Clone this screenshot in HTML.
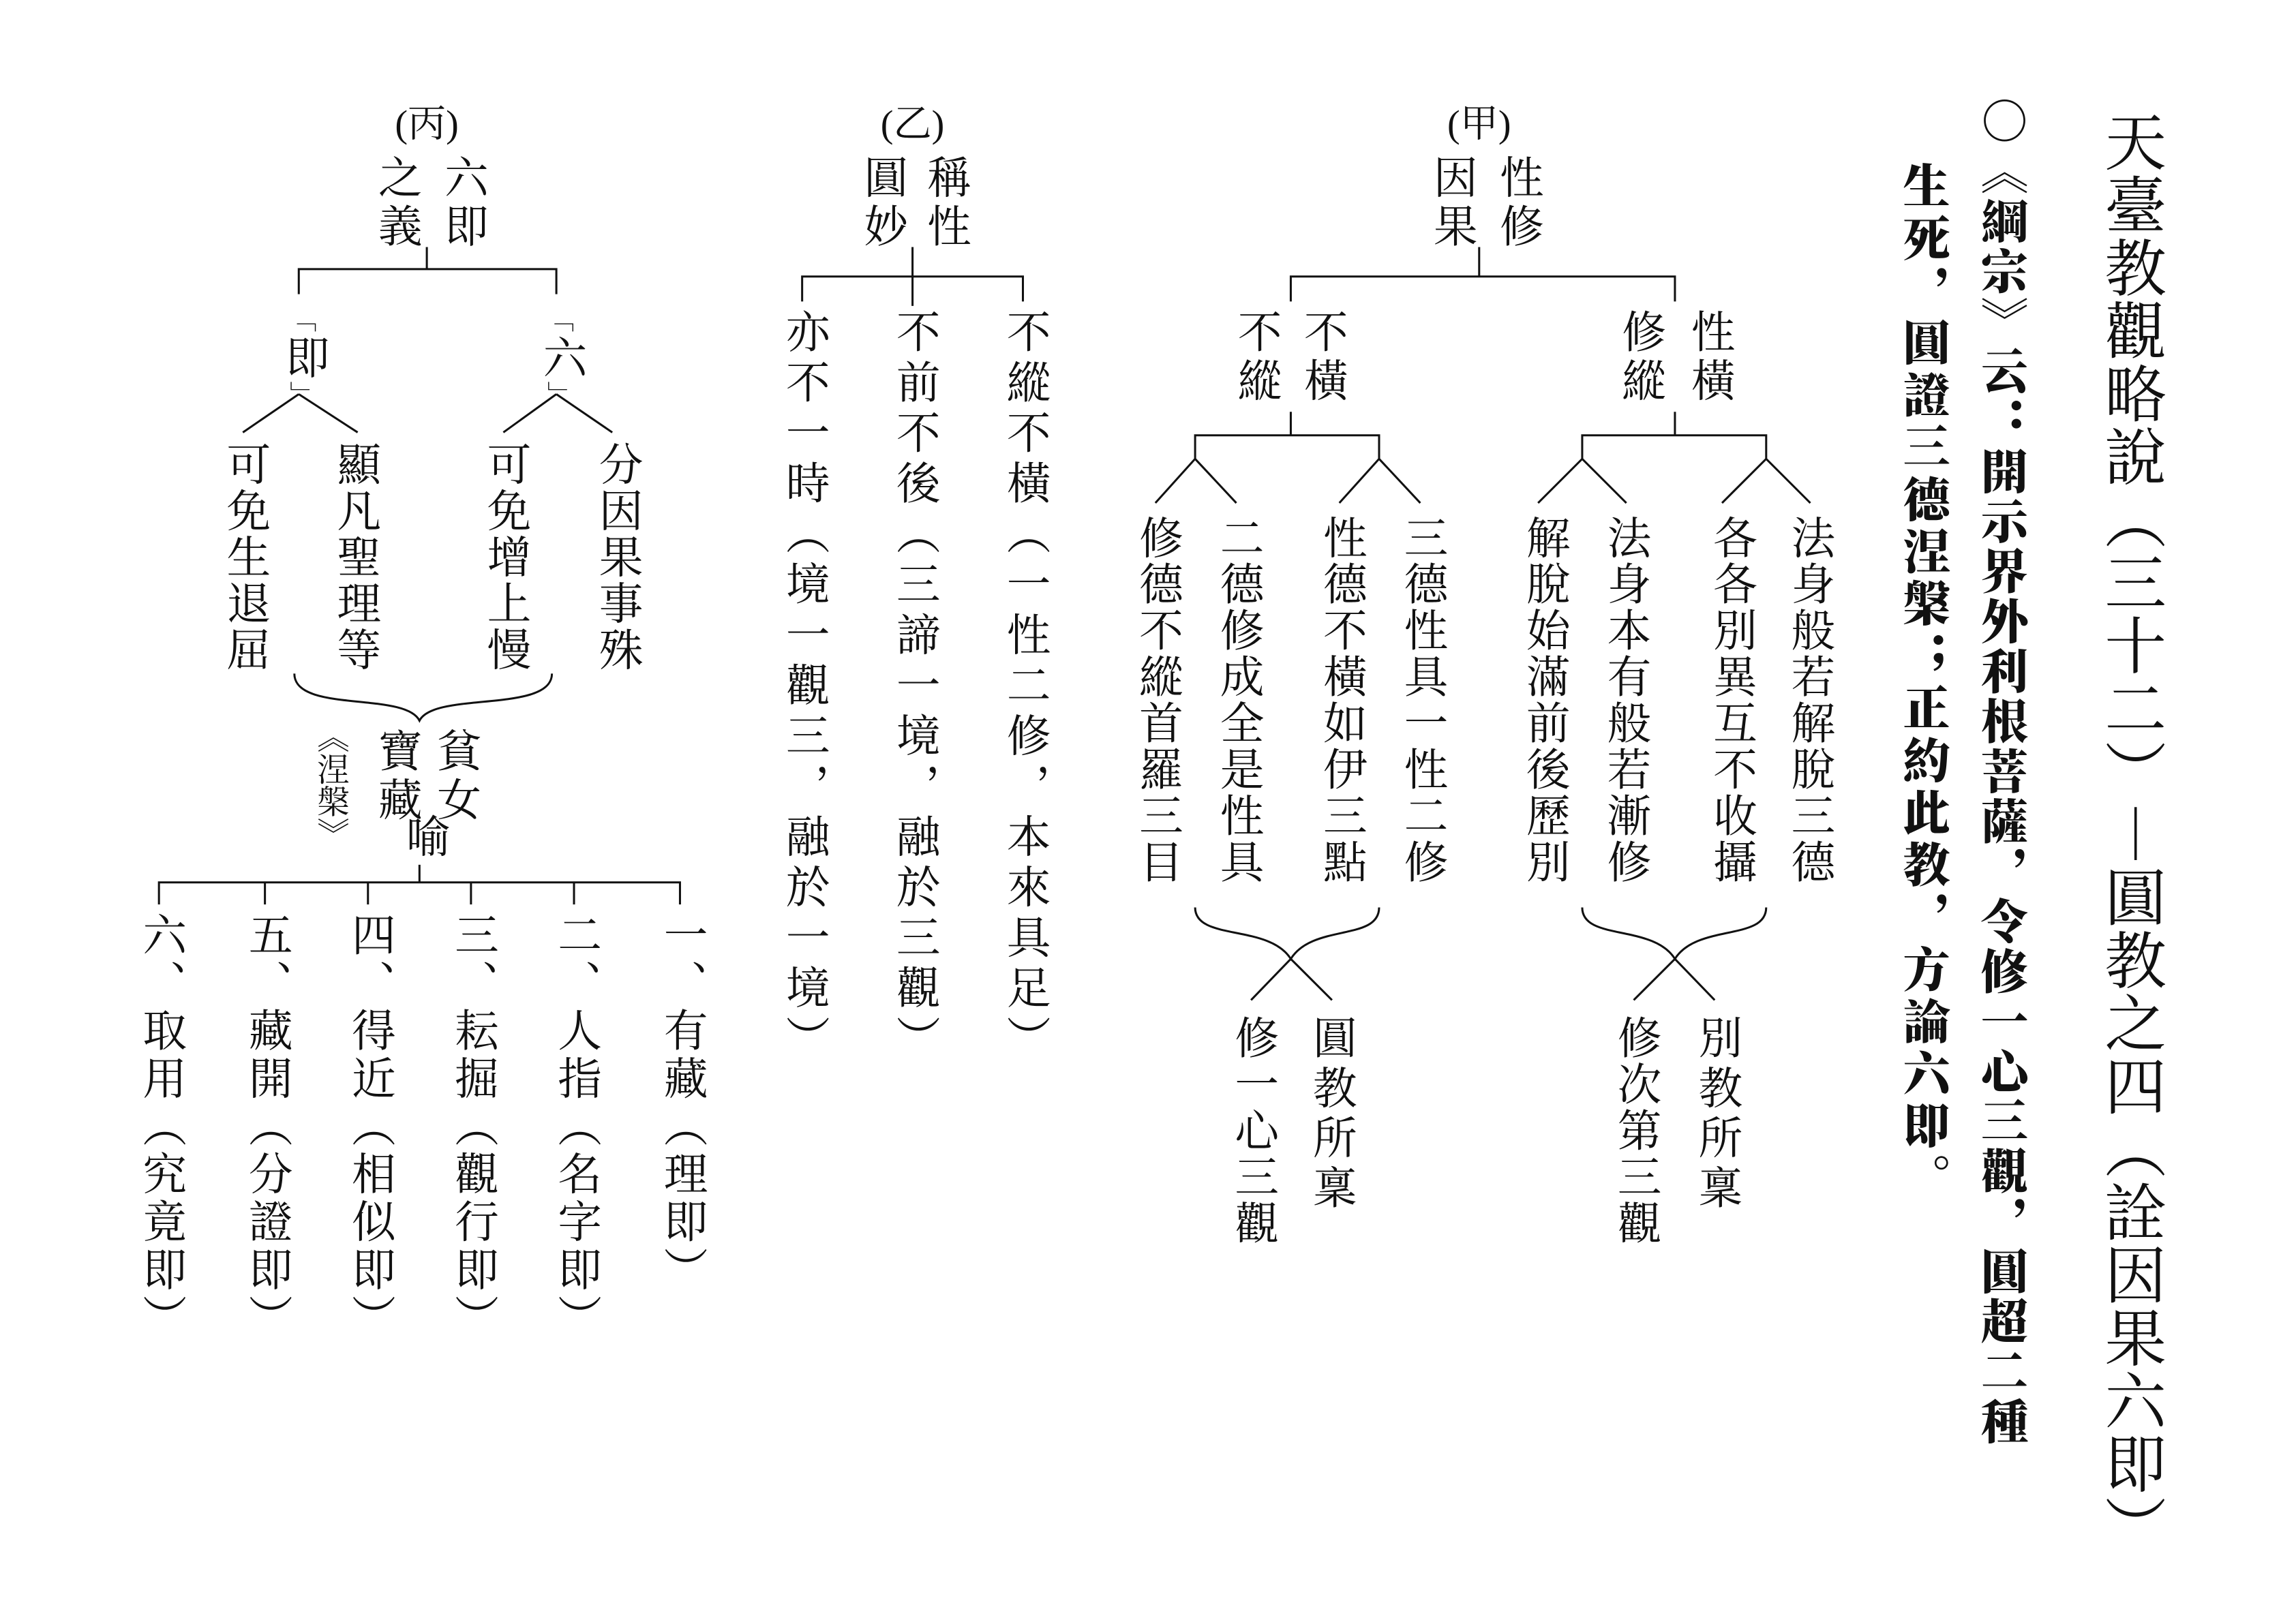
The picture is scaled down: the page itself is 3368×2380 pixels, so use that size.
<!DOCTYPE html>
<html><head><meta charset="utf-8"><style>
html,body{margin:0;padding:0;background:#fff;}
body{width:3368px;height:2380px;overflow:hidden;position:relative;}
#c{position:absolute;left:0;top:0;width:1560px;height:1103px;transform:scale(2.159,2.158);transform-origin:0 0;}
.v{position:absolute;writing-mode:vertical-rl;line-height:1;font-family:"Liberation Serif","Noto Serif CJK SC",serif;color:#111;white-space:nowrap;}
.h{position:absolute;font-family:"Liberation Serif","Noto Serif CJK SC",serif;color:#111;white-space:nowrap;text-align:center;width:80px;font-size:26px;line-height:1;}
.m{font-size:30px;letter-spacing:1.5px;}
.b{font-size:32px;letter-spacing:2px;font-weight:900;}
.br{font-size:18px;}
svg{position:absolute;left:0;top:0;}
</style></head><body><div id="c">
<svg width="1560" height="1103" viewBox="0 0 1560 1103" fill="none" stroke="#111" stroke-width="1.4">
<path d="M1005,168V188M877,205V188H1138V205"/>
<path d="M877,280V296M812,312V296H937V312M812,312L785,342M812,312L840,342M937,312L910,342M937,312L965,342"/>
<path d="M1138,280V296M1075,312V296H1200V312M1075,312L1045,342M1075,312L1105,342M1200,312L1170,342M1200,312L1230,342"/>
<path d="M812,617C812,640 862,628 877,652C892,628 937,640 937,617M877,652L850,680M877,652L905,680"/>
<path d="M1075,617C1075,640 1123,628 1138,652C1153,628 1200,640 1200,617M1138,652L1110,680M1138,652L1165,680"/>
<path d="M620,168V208M545,205V188H695V205"/>
<path d="M290,168V183M203,200V183H378V200"/>
<path d="M203,268L165,294M203,268L243,294M378,268L342,294M378,268L416,294"/>
<path d="M200,458C200,485 275,470 285,490C295,470 375,485 375,458"/>
<path d="M285,588V600M108,615V600H462V615M180,600V615M250,600V615M320,600V615M390,600V615"/>
</svg>

<div class="v" style="left:1426px;top:75px;font-size:42px;letter-spacing:0.8px;">天臺教觀略說（三十二）︱圓教之四（詮因果六即）</div>
<div class="v" style="left:1346px;top:66px;font-size:32px;font-family:'Noto Serif CJK SC',serif;">○</div>
<div class="v b" style="left:1346px;top:100px;font-family:'Noto Serif CJK SC',serif;">《綱宗》云：開示界外利根菩薩，令修一心三觀，圓超二種</div>
<div class="v b" style="left:1293px;top:110px;letter-spacing:3.5px;font-family:'Noto Serif CJK SC',serif;">生死，圓證三德涅槃；正約此教，方論六即。</div>

<div class="h" style="left:965px;top:72px;">(甲)</div>
<div class="v m" style="left:1015px;top:105px;letter-spacing:3px;">性修</div>
<div class="v m" style="left:970px;top:105px;letter-spacing:3px;">因果</div>
<div class="v m" style="left:882px;top:210px;letter-spacing:3px;">不橫</div>
<div class="v m" style="left:837px;top:210px;letter-spacing:3px;">不縱</div>
<div class="v m" style="left:1145px;top:210px;letter-spacing:3px;">性橫</div>
<div class="v m" style="left:1098px;top:210px;letter-spacing:3px;">修縱</div>
<div class="v m" style="left:770px;top:350px;">修德不縱首羅三目</div>
<div class="v m" style="left:825px;top:350px;">二德修成全是性具</div>
<div class="v m" style="left:895px;top:350px;">性德不橫如伊三點</div>
<div class="v m" style="left:950px;top:350px;">三德性具一性二修</div>
<div class="v m" style="left:1033px;top:350px;">解脫始滿前後歷別</div>
<div class="v m" style="left:1088px;top:350px;">法身本有般若漸修</div>
<div class="v m" style="left:1160px;top:350px;">各各別異互不收攝</div>
<div class="v m" style="left:1213px;top:350px;">法身般若解脫三德</div>
<div class="v m" style="left:888px;top:690px;letter-spacing:4px;">圓教所稟</div>
<div class="v m" style="left:835px;top:690px;letter-spacing:1.5px;">修一心三觀</div>
<div class="v m" style="left:1150px;top:690px;letter-spacing:4px;">別教所稟</div>
<div class="v m" style="left:1095px;top:690px;letter-spacing:1.5px;">修次第三觀</div>

<div class="h" style="left:580px;top:72px;">(乙)</div>
<div class="v m" style="left:626px;top:105px;letter-spacing:3px;">稱性</div>
<div class="v m" style="left:583px;top:105px;letter-spacing:3px;">圓妙</div>
<div class="v m" style="left:680px;top:210px;letter-spacing:4.3px;">不縱不橫（一性二修，本來具足）</div>
<div class="v m" style="left:605px;top:210px;letter-spacing:4.3px;">不前不後（三諦一境，融於三觀）</div>
<div class="v m" style="left:530px;top:210px;letter-spacing:4.3px;">亦不一時（境一觀三，融於一境）</div>

<div class="h" style="left:250px;top:72px;">(丙)</div>
<div class="v m" style="left:298px;top:105px;letter-spacing:3px;">六即</div>
<div class="v m" style="left:253px;top:105px;letter-spacing:3px;">之義</div>
<div class="v m" style="left:190px;top:208px;"><span class="br">「</span>即<span class="br">」</span></div>
<div class="v m" style="left:365px;top:208px;"><span class="br">「</span>六<span class="br">」</span></div>
<div class="v m" style="left:150px;top:300px;">可免生退屈</div>
<div class="v m" style="left:225px;top:300px;">顯凡聖理等</div>
<div class="v m" style="left:327px;top:300px;">可免增上慢</div>
<div class="v m" style="left:403px;top:300px;">分因果事殊</div>
<div class="v m" style="left:293px;top:495px;letter-spacing:3px;">貧女</div>
<div class="v m" style="left:253px;top:495px;letter-spacing:3px;">寶藏</div>
<div class="v m" style="left:272px;top:553px;">喻</div>
<div class="v" style="left:214px;top:490px;font-size:22px;">《涅槃》</div>
<div class="v m" style="left:447px;top:620px;letter-spacing:2.5px;">一、有藏（理即）</div>
<div class="v m" style="left:375px;top:620px;letter-spacing:2.5px;">二、人指（名字即）</div>
<div class="v m" style="left:305px;top:620px;letter-spacing:2.5px;">三、耘掘（觀行即）</div>
<div class="v m" style="left:235px;top:620px;letter-spacing:2.5px;">四、得近（相似即）</div>
<div class="v m" style="left:165px;top:620px;letter-spacing:2.5px;">五、藏開（分證即）</div>
<div class="v m" style="left:93px;top:620px;letter-spacing:2.5px;">六、取用（究竟即）</div>
</div></body></html>
